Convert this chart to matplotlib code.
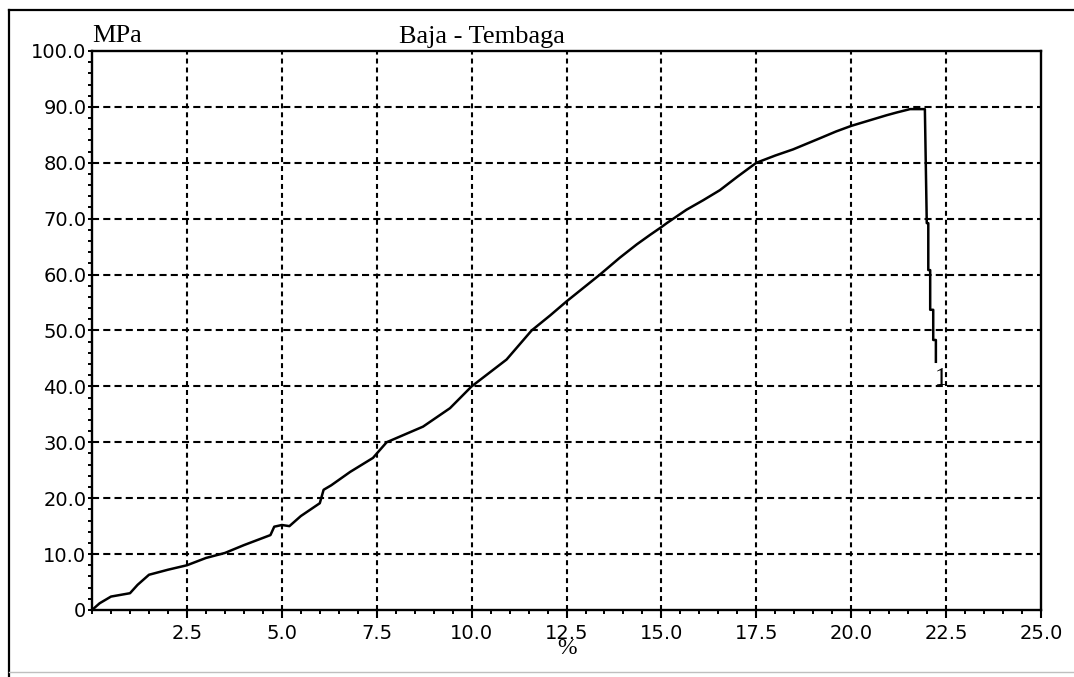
# Baja - Tembaga: Spannungs-Dehnungs-Kurve (nachgezeichnet)
import matplotlib
matplotlib.use("Agg")
import matplotlib.pyplot as plt
from matplotlib.ticker import MultipleLocator, FixedLocator
from matplotlib.lines import Line2D

# Daten
# -----------------------------------------------------------------------------
dehnung = [0.0, 0.2, 0.5, 1.0, 1.2, 1.5, 2.0, 2.5, 3.0, 3.5, 4.0, 4.7, 4.8,
           5.0, 5.2, 5.4, 5.5, 6.0, 6.1, 6.3, 6.8, 7.4, 7.76, 8.72, 9.43,
           10.0, 10.92, 11.58, 12.07, 12.5, 13.38, 13.9, 14.35, 14.7, 15.0,
           15.14, 15.66, 16.1, 16.54, 17.0, 17.5, 18.0, 18.47, 19.18, 19.6,
           20.0, 20.93, 21.2, 21.55, 21.94, 21.99, 22.03, 22.03, 22.08,
           22.08, 22.16, 22.16, 22.23, 22.23]
spannung = [0.0, 1.2, 2.4, 3.0, 4.5, 6.3, 7.2, 8.0, 9.3, 10.2, 11.6, 13.4,
            14.9, 15.2, 15.0, 16.2, 16.8, 19.1, 21.5, 22.3, 24.7, 27.2, 30.0,
            32.8, 36.1, 40.0, 44.8, 50.0, 52.7, 55.2, 60.0, 63.0, 65.4, 67.1,
            68.5, 69.2, 71.6, 73.3, 75.1, 77.5, 80.0, 81.3, 82.4, 84.4, 85.6,
            86.6, 88.5, 89.0, 89.6, 89.6, 69.2, 69.2, 60.8, 60.8, 53.7, 53.7,
            48.3, 48.3, 44.4]

x_ticks = [2.5, 5.0, 7.5, 10.0, 12.5, 15.0, 17.5, 20.0, 22.5, 25.0]
x_labels = ["2.5", "5.0", "7.5", "10.0", "12.5", "15.0", "17.5", "20.0",
            "22.5", "25.0"]
y_ticks = [0, 10, 20, 30, 40, 50, 60, 70, 80, 90, 100]
y_labels = ["0", "10.0", "20.0", "30.0", "40.0", "50.0", "60.0", "70.0",
            "80.0", "90.0", "100.0"]

titel = "Baja - Tembaga"
einheit_y = "MPa"
einheit_x = "%"
kurven_name = "1"
kurven_pos = (22.38, 41.4)

# Plot
# -----------------------------------------------------------------------------
serif = ["Liberation Serif", "DejaVu Serif"]
sans = ["DejaVu Sans"]

fig = plt.figure(figsize=(10.74, 6.77), dpi=100)
fig.patch.set_facecolor("white")
ax = fig.add_axes([0.0857, 0.0990, 0.8836, 0.8257])

# Gitter
grid_style = dict(color="black", linewidth=1.5, dashes=(3.4, 2.0))
for x in x_ticks[:-1]:
    ax.axvline(x, zorder=1, **dict(grid_style, dashes=(2.4, 1.9)))
for y in y_ticks[1:-1]:
    ax.axhline(y, zorder=1, **grid_style)

ax.plot(dehnung, spannung, color="black", linewidth=1.8, zorder=3)

ax.set_xlim(0, 25)
ax.set_ylim(0, 100)
ax.xaxis.set_major_locator(FixedLocator(x_ticks))
ax.set_xticklabels(x_labels, family=sans, fontsize=14)
ax.xaxis.set_minor_locator(MultipleLocator(0.5))
ax.yaxis.set_major_locator(FixedLocator(y_ticks))
ax.set_yticklabels(y_labels, family=sans, fontsize=14)
ax.yaxis.set_minor_locator(MultipleLocator(2))

ax.tick_params(axis="x", which="major", direction="out", length=6,
               width=1.5, pad=4)
ax.tick_params(axis="x", which="minor", direction="out", length=3,
               width=1.4)
ax.tick_params(axis="y", which="major", direction="out", length=3,
               width=1.4, pad=1)
ax.tick_params(axis="y", which="minor", direction="out", length=3,
               width=1.4)
for s in ax.spines.values():
    s.set_linewidth(1.7)

ax.text(kurven_pos[0], kurven_pos[1], kurven_name, family=serif,
        fontsize=18, ha="center", va="center")

fig.text(482 / 1074, 1 - 37 / 677, titel, family=serif, fontsize=19,
         ha="center", va="center")
fig.text(92 / 1074, 1 - 36 / 677, einheit_y, family=serif, fontsize=19,
         ha="left", va="center")
fig.text(567 / 1074, 1 - 648 / 677, einheit_x, family=serif, fontsize=17,
         ha="center", va="center")

# Rahmen um das Bild
rahmen = dict(color="black", linewidth=1.6, transform=fig.transFigure)
fig.add_artist(Line2D([9 / 1074, 9 / 1074], [1 - 10 / 677, 1 - 677 / 677],
                      **rahmen))
fig.add_artist(Line2D([9 / 1074, 1.0], [1 - 10 / 677, 1 - 10 / 677],
                      **rahmen))
fig.add_artist(Line2D([9 / 1074, 1.0], [1 - 672 / 677, 1 - 672 / 677],
                      color="0.75", linewidth=1.0,
                      transform=fig.transFigure))

fig.savefig("out.png", dpi=100)
